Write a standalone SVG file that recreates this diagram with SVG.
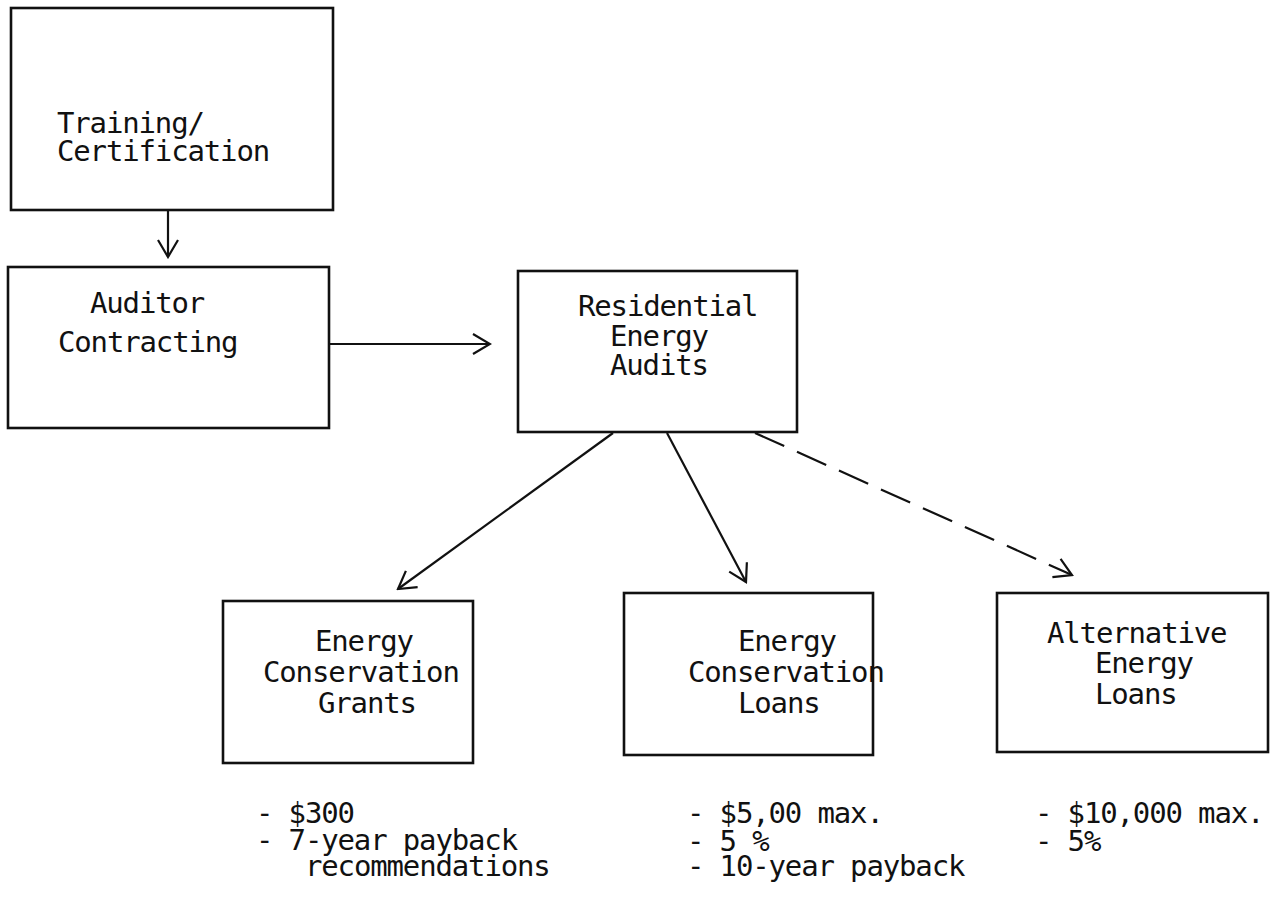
<svg xmlns="http://www.w3.org/2000/svg" width="1279" height="899" viewBox="0 0 1279 899">
<style>
.box{fill:none;stroke:#111;stroke-width:2.6}
.t{font-family:"DejaVu Sans Mono","Liberation Mono",monospace;font-size:29px;letter-spacing:-1.15px;fill:#111}
.c{fill:none;stroke:#111;stroke-width:2.2}
.d{stroke-dasharray:32 14}
</style>
<defs>
<marker id="v" viewBox="-20 -12 22 24" refX="0" refY="0" markerWidth="22" markerHeight="24" markerUnits="userSpaceOnUse" orient="auto">
<path d="M-17,-10 L0,0 L-17,10" fill="none" stroke="#111" stroke-width="2.2"/>
</marker>
</defs>
<rect width="1279" height="899" fill="#fff"/>
<g id="training">
<rect class="box" x="11" y="8" width="322" height="202"/>
<text class="t" x="57" y="133">Training/</text>
<text class="t" x="57" y="161">Certification</text>
</g>
<g id="auditor">
<rect class="box" x="8" y="267" width="321" height="161"/>
<text class="t" x="90" y="313">Auditor</text>
<text class="t" x="58" y="352">Contracting</text>
</g>
<g id="residential">
<rect class="box" x="518" y="271" width="279" height="161"/>
<text class="t" x="578" y="316">Residential</text>
<text class="t" x="610" y="346">Energy</text>
<text class="t" x="610" y="375">Audits</text>
</g>
<g id="grants">
<rect class="box" x="223" y="601" width="250" height="162"/>
<text class="t" x="315" y="651">Energy</text>
<text class="t" x="263" y="682">Conservation</text>
<text class="t" x="318" y="713">Grants</text>
</g>
<g id="loans">
<rect class="box" x="624" y="593" width="249" height="162"/>
<text class="t" x="738" y="651">Energy</text>
<text class="t" x="688" y="682">Conservation</text>
<text class="t" x="738" y="713">Loans</text>
</g>
<g id="altloans">
<rect class="box" x="997" y="593" width="271" height="159"/>
<text class="t" x="1047" y="643">Alternative</text>
<text class="t" x="1095" y="673">Energy</text>
<text class="t" x="1095" y="704">Loans</text>
</g>
<g id="connectors">
<line class="c" x1="168" y1="210" x2="168" y2="257" marker-end="url(#v)"/>
<line class="c" x1="329" y1="344" x2="490" y2="344" marker-end="url(#v)"/>
<line class="c" x1="613" y1="433" x2="398" y2="589" marker-end="url(#v)"/>
<line class="c" x1="667" y1="433" x2="746" y2="582" marker-end="url(#v)"/>
<line class="c d" x1="755" y1="433" x2="1072" y2="575" marker-end="url(#v)"/>
</g>
<g id="notes">
<text class="t" x="256" y="823">- $300</text>
<text class="t" x="256" y="850">- 7-year payback</text>
<text class="t" x="305" y="876">recommendations</text>
<text class="t" x="687" y="823">- $5,00 max.</text>
<text class="t" x="687" y="851">- 5 %</text>
<text class="t" x="687" y="876">- 10-year payback</text>
<text class="t" x="1035" y="823">- $10,000 max.</text>
<text class="t" x="1035" y="851">- 5%</text>
</g>
</svg>
